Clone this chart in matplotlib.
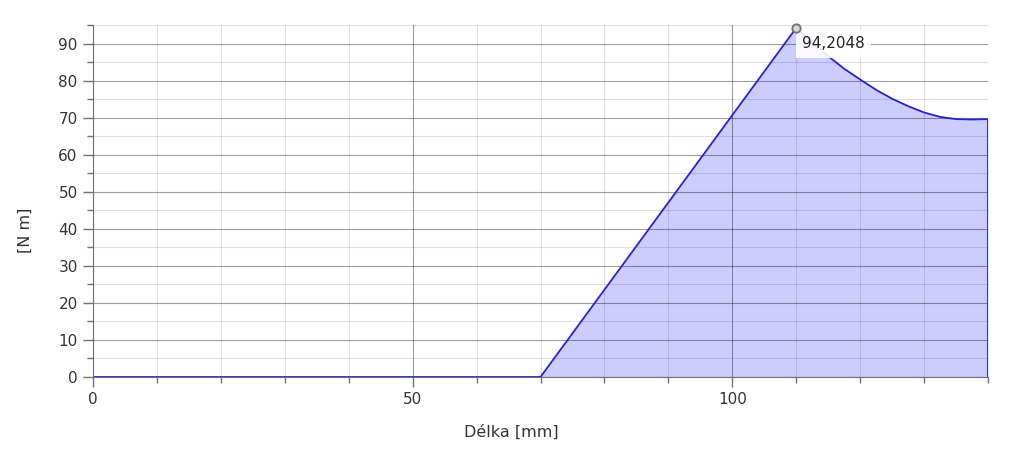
import matplotlib
matplotlib.use("Agg")
import matplotlib.pyplot as plt
from matplotlib.ticker import MultipleLocator

# Data (x in mm, y in N m)
x_mm = [0, 70, 110, 112.5, 115, 117.5, 120, 122.5, 125, 127.5, 130, 132.5, 135, 137.5, 140, 140]
moment = [0, 0, 94.2048, 90.2, 86.6, 83.2, 80.3, 77.5, 75.1, 73.1, 71.4, 70.2, 69.6, 69.5, 69.6, 0]
peak_x = 110
peak_y = 94.2048
peak_label = "94,2048"
x_label = "Délka [mm]"
y_label = "[N m]"

W, H, DPI = 1023, 462, 100
fig = plt.figure(figsize=(W / DPI, H / DPI), dpi=DPI)
ax = fig.add_axes([93 / W, 1 - 377 / H, (988 - 93) / W, (377 - 25) / H])

text_color = "#333333"
line_color = "#2424c8"
fill_color = "#ccccff"

ax.fill_between(x_mm, moment, 0, color=fill_color, linewidth=0, zorder=1)
ax.plot(x_mm, moment, color=line_color, linewidth=1.3, zorder=3)

ax.set_xlim(0, 140)
ax.set_ylim(0, 95)
ax.xaxis.set_major_locator(MultipleLocator(50))
ax.xaxis.set_minor_locator(MultipleLocator(10))
ax.yaxis.set_major_locator(MultipleLocator(10))
ax.yaxis.set_minor_locator(MultipleLocator(5))

ax.set_axisbelow(False)
ax.grid(which="major", color="black", alpha=0.38, linewidth=0.8)
ax.grid(which="minor", color="black", alpha=0.12, linewidth=0.8)
for gl in ax.get_xgridlines() + ax.get_ygridlines():
    gl.set_zorder(2)
for gl in ax.xaxis.get_minorticklines():
    pass

for s in ["top", "right"]:
    ax.spines[s].set_visible(False)
ax.spines["left"].set_color("#707070")
ax.spines["bottom"].set_color("#707070")
ax.spines["left"].set_zorder(4)

ax.tick_params(which="major", length=7, width=1, color="#707070", labelcolor=text_color,
               labelsize=11, pad=4)
ax.tick_params(which="minor", length=4, width=1, color="#707070")

ax.set_xlabel(x_label, fontsize=11.5, color=text_color)
ax.xaxis.set_label_coords((511 - 93) / (988 - 93), -0.135)
ax.set_ylabel(y_label, fontsize=11.5, color=text_color)
ax.yaxis.set_label_coords(-(93 - 33) / (988 - 93), (377 - 230) / (377 - 25))

# peak marker and label
ax.annotate(peak_label, xy=(peak_x, peak_y), xytext=(4.5, -11.5), textcoords="offset points",
            fontsize=11, color="#222222", ha="left", va="center", zorder=6, annotation_clip=False,
            bbox=dict(boxstyle="square,pad=0.4", facecolor="white", edgecolor="none", alpha=0.9))
ax.plot([peak_x], [peak_y], marker="o", markersize=6, markerfacecolor="#d8d8d8",
        markeredgecolor="#707070", markeredgewidth=1.3, zorder=7, clip_on=False)

fig.savefig("out.png", dpi=DPI)
